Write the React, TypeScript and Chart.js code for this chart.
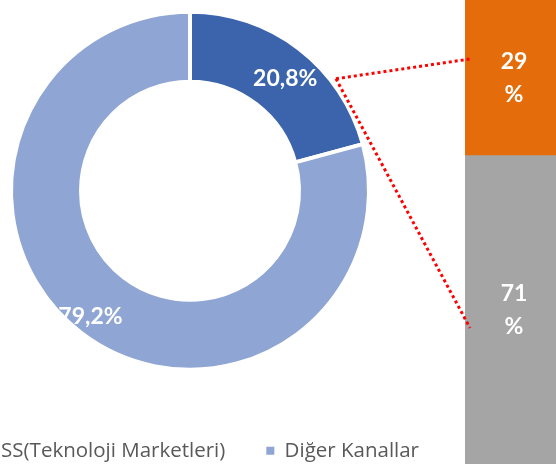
import React, { useEffect, useRef } from "react";
import { Chart, registerables } from "chart.js";

Chart.register(...registerables);

// ---- data ----
const channelLabels = ["SS(Teknoloji Marketleri)", "Diğer Kanallar"];
const channelShares = [20.8, 79.2];
const channelColors = ["#3B64AD", "#8FA5D4"];

const breakdownLabels = ["29", "71"];
const breakdownShares = [29, 71]; // top (orange), bottom (gray)
const breakdownColors = ["#E46C0A", "#A5A5A5"];

// ---- layout ----
const DONUT_LEFT = -80;
const DONUT_TOP = -18;
const DONUT_W = 540;
const DONUT_H = 489;
const BAR_LEFT = 465;
const BAR_W = 104;
const BAR_H = 464;
const OUTER_R = 179;
const INNER_R = 109;
const labelAngleShift = [3, 1];
const labelRadiusFrac = [0.54, 0.73];
const connectorEnds = [
  [470, 59],
  [470, 328],
];

const donutLabelPlugin = {
  id: "donutLabels",
  afterDatasetsDraw(chart: any) {
    const meta = chart.getDatasetMeta(0);
    const ctx = chart.ctx;
    ctx.save();
    ctx.fillStyle = "#FFFFFF";
    ctx.font = "bold 23px Lato";
    ctx.textAlign = "center";
    ctx.textBaseline = "middle";
    meta.data.forEach((arc: any, i: number) => {
      const p = arc.getProps(["x", "y", "startAngle", "endAngle", "innerRadius", "outerRadius"], true);
      const a = (p.startAngle + p.endAngle) / 2 + (labelAngleShift[i] * Math.PI) / 180;
      const r = p.innerRadius + (p.outerRadius - p.innerRadius) * labelRadiusFrac[i];
      const v = channelShares[i].toFixed(1).replace(".", ",") + "%";
      ctx.fillText(v, p.x + r * Math.cos(a), p.y + r * Math.sin(a));
    });
    ctx.restore();
  },
};

const barLabelPlugin = {
  id: "barLabels",
  afterDatasetsDraw(chart: any) {
    const ctx = chart.ctx;
    const area = chart.chartArea;
    ctx.save();
    ctx.fillStyle = "#FFFFFF";
    ctx.font = "bold 23px Lato";
    ctx.textAlign = "center";
    ctx.textBaseline = "middle";
    chart.data.datasets.forEach((ds: any, di: number) => {
      const meta = chart.getDatasetMeta(di);
      meta.data.forEach((bar: any) => {
        const top = Math.max(Math.min(bar.y, bar.base), area.top);
        const bottom = Math.min(Math.max(bar.y, bar.base), area.bottom);
        const cy = (top + bottom) / 2;
        ctx.fillText(String(ds.label), bar.x - 3, cy - 16.5);
        ctx.fillText("%", bar.x - 3, cy + 17);
      });
    });
    ctx.restore();
  },
};

export default function App() {
  const donutRef = useRef<HTMLCanvasElement>(null);
  const barRef = useRef<HTMLCanvasElement>(null);
  const overlayRef = useRef<HTMLCanvasElement>(null);

  useEffect(() => {
    let donut: Chart | null = null;
    let bar: Chart | null = null;
    let cancelled = false;

    const drawConnectors = () => {
      const ov = overlayRef.current;
      if (!ov || !donut) return;
      const ctx = ov.getContext("2d");
      if (!ctx) return;
      ctx.clearRect(0, 0, ov.width, ov.height);
      const arc: any = donut.getDatasetMeta(0).data[0];
      if (!arc) return;
      const p = arc.getProps(["x", "y", "outerRadius"], true);
      const ang = ((-90 + 52.5) * Math.PI) / 180;
      const r = p.outerRadius + 5;
      const sx = DONUT_LEFT + p.x + r * Math.cos(ang);
      const sy = DONUT_TOP + p.y + r * Math.sin(ang);
      ctx.save();
      ctx.strokeStyle = "#FF0000";
      ctx.lineWidth = 3;
      ctx.setLineDash([3, 3]);
      connectorEnds.forEach(([ex, ey]) => {
        ctx.beginPath();
        ctx.moveTo(sx, sy);
        ctx.lineTo(ex, ey);
        ctx.stroke();
      });
      ctx.restore();
    };

    const build = () => {
      if (cancelled || !donutRef.current || !barRef.current) return;
      bar = new Chart(barRef.current, {
        type: "bar",
        data: {
          labels: [""],
          datasets: [
            { label: breakdownLabels[1], data: [breakdownShares[1]], backgroundColor: breakdownColors[1] },
            { label: breakdownLabels[0], data: [breakdownShares[0]], backgroundColor: breakdownColors[0] },
          ],
        },
        options: {
          responsive: false,
          animation: false,
          layout: { padding: 0 },
          datasets: { bar: { barPercentage: 1, categoryPercentage: 1, borderWidth: 0 } },
          plugins: { legend: { display: false }, tooltip: { enabled: false } },
          scales: {
            x: { stacked: true, display: false },
            y: { stacked: true, display: false, min: 13.5, max: 100 },
          },
        } as any,
        plugins: [barLabelPlugin],
      });

      donut = new Chart(donutRef.current, {
        type: "doughnut",
        data: {
          labels: channelLabels,
          datasets: [
            {
              data: channelShares,
              backgroundColor: channelColors,
              borderColor: "#FFFFFF",
              borderWidth: 4,
            },
          ],
        },
        options: {
          responsive: false,
          animation: false,
          radius: OUTER_R,
          cutout: (INNER_R / OUTER_R) * 100 + "%",
          layout: { padding: 0 },
          plugins: {
            tooltip: { enabled: false },
            legend: {
              display: true,
              position: "bottom",
              align: "end",
              labels: {
                boxWidth: 8,
                boxHeight: 8,
                padding: 41,
                color: "#595959",
                font: { family: "'Open Sans'", size: 20.5 },
                generateLabels: (chart: any) => {
                  const items = Chart.overrides.doughnut.plugins.legend.labels.generateLabels(chart);
                  return items.map((it: any) => ({ ...it, lineWidth: 0, strokeStyle: "rgba(0,0,0,0)" }));
                },
              },
            },
          },
        } as any,
        plugins: [donutLabelPlugin],
      });
      drawConnectors();
    };

    const fonts = (document as any).fonts;
    if (fonts && fonts.load) {
      Promise.all([
        fonts.load("20px 'Open Sans'"),
        fonts.load("bold 23px Lato"),
      ]).then(build, build);
    } else {
      build();
    }

    return () => {
      cancelled = true;
      if (donut) donut.destroy();
      if (bar) bar.destroy();
    };
  }, []);

  return (
    <div
      style={{
        position: "absolute",
        left: 0,
        top: 0,
        width: 556,
        height: 464,
        overflow: "hidden",
        background: "#FFFFFF",
      }}
    >
      <canvas
        ref={barRef}
        width={BAR_W}
        height={BAR_H}
        style={{ position: "absolute", left: BAR_LEFT, top: 0, width: BAR_W, height: BAR_H }}
      />
      <canvas
        ref={donutRef}
        width={DONUT_W}
        height={DONUT_H}
        style={{ position: "absolute", left: DONUT_LEFT, top: DONUT_TOP, width: DONUT_W, height: DONUT_H }}
      />
      <canvas
        ref={overlayRef}
        width={556}
        height={464}
        style={{ position: "absolute", left: 0, top: 0, width: 556, height: 464, pointerEvents: "none" }}
      />
    </div>
  );
}
